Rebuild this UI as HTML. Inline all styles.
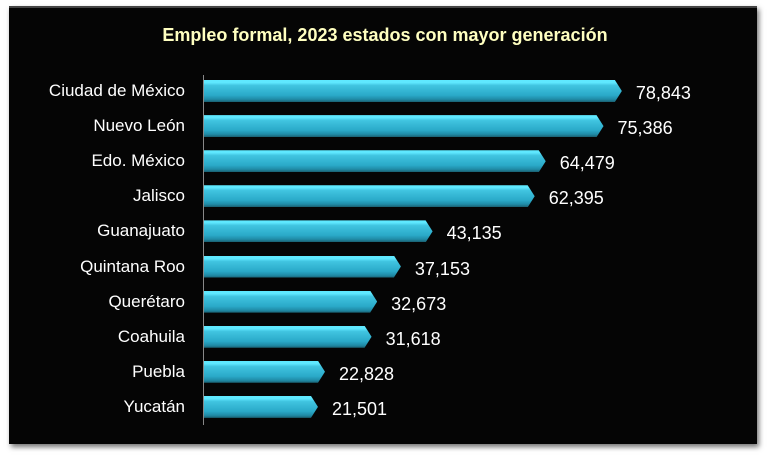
<!DOCTYPE html>
<html><head><style>
body{margin:0;width:770px;height:460px;background:#fff;overflow:hidden;font-family:"Liberation Sans",sans-serif}
.box{position:absolute;left:9px;top:6px;width:748px;height:436px;background:#050505;box-shadow:2px 3px 5px rgba(0,0,0,.55);border-top:2px solid #444}
.t{position:absolute;left:0;width:770px;top:25px;text-align:center;color:#ffffc0;font-weight:bold;font-size:18px}
.ax{position:absolute;left:203px;top:75px;width:1px;height:350px;background:#888}
.l{position:absolute;right:585px;color:#fff;font-size:17px;line-height:20px}
.v{position:absolute;color:#fff;font-size:18px;line-height:20px}
.b{position:absolute;left:204px;height:22px;background:linear-gradient(#5fe8ff 0,#5fe8ff 12%,#40c4e0 25%,#2aa9c8 70%,#1f8aa6 88%,#1a5f70 100%);clip-path:polygon(0 0,calc(100% - 7px) 0,100% 50%,calc(100% - 7px) 100%,0 100%)}
</style></head><body>
<div class="box"></div>
<div class="t">Empleo formal, 2023 estados con mayor generación</div>
<div class="ax"></div>
<div id="c"></div>
<script>
var d=[["Ciudad de México",78843,"78,843"],["Nuevo León",75386,"75,386"],["Edo. México",64479,"64,479"],["Jalisco",62395,"62,395"],["Guanajuato",43135,"43,135"],["Quintana Roo",37153,"37,153"],["Querétaro",32673,"32,673"],["Coahuila",31618,"31,618"],["Puebla",22828,"22,828"],["Yucatán",21501,"21,501"]];
var h="";d.forEach(function(r,i){var cy=91+i*35.1,w=r[1]*0.0053;
h+='<div class="l" style="top:'+(cy-10)+'px">'+r[0]+'</div><div class="b" style="top:'+(cy-11)+'px;width:'+w+'px"></div><div class="v" style="top:'+(cy-8)+'px;left:'+(204+w+14)+'px">'+r[2]+'</div>';});
document.getElementById("c").innerHTML=h;
</script>
</body></html>
